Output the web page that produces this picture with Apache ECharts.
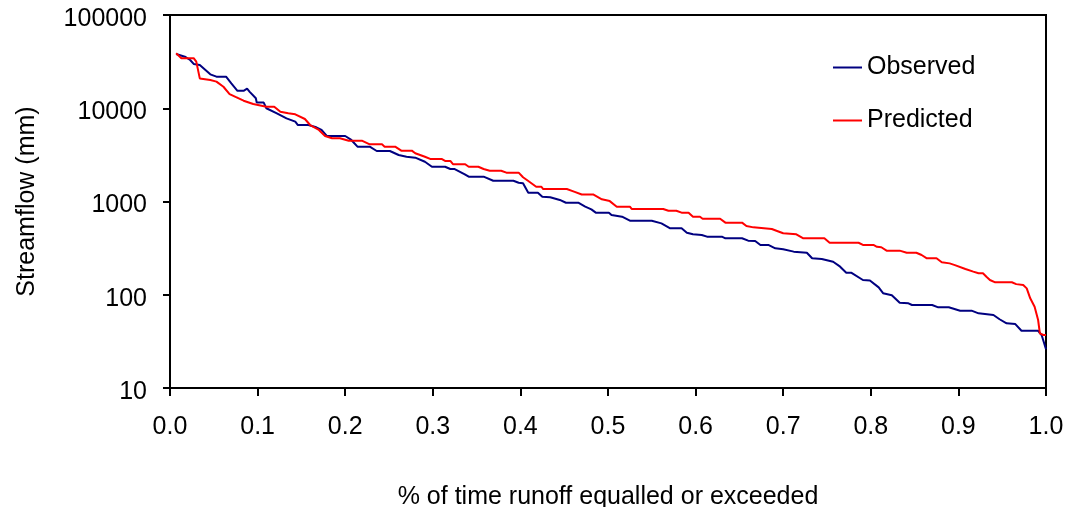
<!DOCTYPE html>
<html>
<head>
<meta charset="utf-8">
<script src="https://cdn.jsdelivr.net/npm/echarts@6/dist/echarts.min.js"></script>
<style>
html,body{margin:0;padding:0;background:#fff;}
#chart{width:1070px;height:507px;}
</style>
</head>
<body>
<div id="chart"></div>
<script>
// Exceedance fraction (x) and streamflow (mm)
var obsPct = [0.007,0.017,0.023,0.027,0.034,0.046,0.053,0.064,0.070,0.077,0.084,0.088,0.091,0.098,0.099,0.107,0.110,0.122,0.133,0.143,0.146,0.158,0.167,0.173,0.179,0.200,0.207,0.214,0.228,0.236,0.251,0.261,0.270,0.280,0.291,0.299,0.314,0.320,0.325,0.336,0.341,0.358,0.369,0.392,0.398,0.403,0.409,0.420,0.425,0.434,0.445,0.452,0.466,0.474,0.481,0.486,0.501,0.504,0.516,0.525,0.550,0.561,0.571,0.584,0.590,0.597,0.607,0.613,0.630,0.634,0.653,0.660,0.668,0.674,0.683,0.691,0.700,0.712,0.727,0.733,0.744,0.757,0.765,0.772,0.778,0.791,0.799,0.809,0.814,0.824,0.833,0.843,0.847,0.870,0.877,0.889,0.902,0.915,0.923,0.940,0.947,0.955,0.965,0.972,0.991,0.995,1.000];
var obsFlow = [38200,35700,32900,29900,29100,23100,21800,21800,18500,15400,15400,16200,15000,12800,11500,11500,10000,8830,7800,7180,6610,6610,6250,5850,5040,5040,4570,3870,3870,3480,3480,3150,3020,2950,2670,2360,2360,2230,2230,1970,1845,1845,1670,1670,1590,1570,1240,1240,1125,1110,1040,970,970,880,824,759,759,716,687,622,622,583,516,516,462,445,438,420,420,403,403,380,377,342,342,315,307,290,282,246,242,226,200,172,172,144,142,120,104,99,82,81,77.6,77.6,73.3,73.3,67.5,67.5,63.2,60.7,54.6,49.4,48.5,41.1,41.1,37.0,26];
var predPct = [0.007,0.013,0.027,0.030,0.034,0.046,0.053,0.061,0.068,0.076,0.084,0.095,0.110,0.119,0.126,0.135,0.143,0.154,0.160,0.170,0.177,0.185,0.194,0.204,0.219,0.228,0.242,0.245,0.257,0.264,0.276,0.280,0.291,0.297,0.310,0.314,0.320,0.323,0.337,0.341,0.352,0.358,0.365,0.378,0.384,0.398,0.403,0.411,0.418,0.424,0.426,0.453,0.462,0.470,0.483,0.493,0.502,0.504,0.510,0.525,0.527,0.563,0.569,0.578,0.584,0.592,0.597,0.605,0.608,0.628,0.634,0.653,0.658,0.666,0.687,0.693,0.700,0.715,0.723,0.747,0.753,0.786,0.791,0.803,0.807,0.812,0.818,0.833,0.835,0.841,0.852,0.858,0.864,0.875,0.881,0.890,0.896,0.908,0.917,0.923,0.928,0.932,0.936,0.942,0.961,0.966,0.974,0.978,0.982,0.987,0.991,0.993,0.997,1.000];
var predFlow = [38800,34400,34400,31600,20900,20100,19300,17000,14200,13100,12050,11100,10400,10400,9180,8830,8610,7670,6610,5850,5040,4760,4760,4490,4490,4100,4100,3870,3870,3510,3510,3290,3020,2860,2860,2720,2720,2510,2510,2360,2360,2230,2140,2140,2040,2040,1820,1610,1440,1440,1360,1360,1270,1190,1190,1057,1010,995,880,880,832,832,796,796,759,759,687,687,654,654,593,593,546,528,507,483,456,445,403,403,361,361,342,342,327,323,297,297,290,282,282,267,246,246,223,217,208,189,177,170,170,156,144,136,136,130,127,117,91.6,74.5,53.6,38.6,37.0,37.0];
var seriesNames = ['Observed', 'Predicted'];
var xTickLabels = ['0.0','0.1','0.2','0.3','0.4','0.5','0.6','0.7','0.8','0.9','1.0'];
var yTickLabels = ['10','100','1000','10000','100000'];

function zip(a, b) { return a.map(function (v, i) { return [v, b[i]]; }); }

var FONT = '"Liberation Sans", Arial, sans-serif';
var FS = 25;
var chart = echarts.init(document.getElementById('chart'), null, {renderer: 'canvas'});
chart.setOption({
  animation: false,
  backgroundColor: '#ffffff',
  textStyle: {fontFamily: FONT, color: '#000'},
  grid: {left: 170, right: 24, top: 15, bottom: 119, containLabel: false, outerBoundsMode: 'none',
    show: true, borderColor: '#000', borderWidth: 2, backgroundColor: 'transparent'},
  legend: {
    orient: 'vertical', left: 828, top: 50, itemWidth: 29, itemHeight: 2, itemGap: 28,
    icon: 'rect',
    textStyle: {fontFamily: FONT, fontSize: FS, color: '#000'},
    data: seriesNames
  },
  xAxis: {
    type: 'value', min: 0, max: 1, interval: 0.1,
    name: '% of time runoff equalled or exceeded', nameLocation: 'middle', nameGap: 97,
    nameTextStyle: {fontFamily: FONT, fontSize: FS, color: '#000'},
    axisLine: {show: true, lineStyle: {color: '#000', width: 2}},
    axisTick: {show: true, inside: false, length: 8, lineStyle: {color: '#000', width: 2}},
    axisLabel: {margin: 27, fontSize: FS, color: '#000', fontFamily: FONT,
      formatter: function (v) { return xTickLabels[Math.round(v * 10)]; }},
    splitLine: {show: false}
  },
  yAxis: {
    type: 'log', logBase: 10, min: 10, max: 100000,
    name: 'Streamflow (mm)', nameLocation: 'middle', nameGap: 130, nameRotate: 90,
    nameTextStyle: {fontFamily: FONT, fontSize: FS, color: '#000'},
    axisLine: {show: true, lineStyle: {color: '#000', width: 2}},
    axisTick: {show: true, inside: false, length: 7, lineStyle: {color: '#000', width: 2}},
    axisLabel: {margin: 23, fontSize: FS, color: '#000', fontFamily: FONT,
      formatter: function (v) { var i = Math.round(Math.log10(v)) - 1; return '{v|' + (yTickLabels[i] || String(v)) + '}'; },
      rich: {v: {fontSize: FS, fontFamily: FONT, color: '#000', padding: [8, 0, 0, 0]}}},
    splitLine: {show: false}
  },
  series: [
    {name: seriesNames[0], type: 'line', data: zip(obsPct, obsFlow), showSymbol: false, symbol: 'none',
      lineStyle: {color: '#000080', width: 2}, itemStyle: {color: '#000080'}},
    {name: seriesNames[1], type: 'line', data: zip(predPct, predFlow), showSymbol: false, symbol: 'none',
      lineStyle: {color: '#ff0000', width: 2}, itemStyle: {color: '#ff0000'}}
  ]
});
</script>
</body>
</html>
